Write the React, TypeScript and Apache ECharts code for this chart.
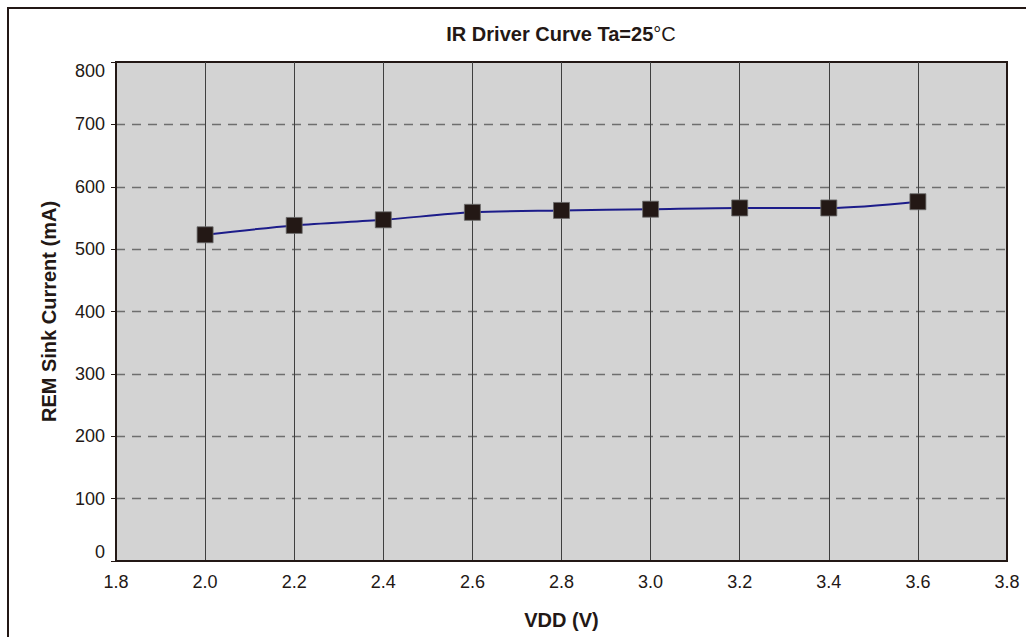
import React, { useEffect, useRef } from "react";
import * as echarts from "echarts";

const vdd = [2.0, 2.2, 2.4, 2.6, 2.8, 3.0, 3.2, 3.4, 3.6];
const sinkCurrent = [523, 538, 547, 559, 562, 564, 566, 566, 576];
const yTicks = { min: 0, max: 800, interval: 100 };
const xTicks = { min: 1.8, max: 3.8, interval: 0.2 };

const INK = "#231815";
const FONT = "'Liberation Sans', Arial, sans-serif";

export default function App() {
  const ref = useRef<HTMLDivElement>(null);
  useEffect(() => {
    if (!ref.current) return;
    const chart = echarts.init(ref.current, undefined, { renderer: "svg" });
    chart.setOption({
      animation: false,
      backgroundColor: "#ffffff",
      textStyle: { fontFamily: FONT },
      grid: {
        left: 116,
        top: 62,
        right: 19,
        bottom: 76,
        show: true,
        backgroundColor: "#d3d3d3",
        borderColor: INK,
        borderWidth: 2,
      },
      graphic: [
        {
          type: "line",
          shape: { x1: 7, y1: 8, x2: 1026, y2: 8 },
          style: { stroke: INK, lineWidth: 2 },
        },
        {
          type: "line",
          shape: { x1: 8, y1: 7, x2: 8, y2: 637 },
          style: { stroke: INK, lineWidth: 2 },
        },
        {
          type: "text",
          x: 561,
          y: 34,
          style: {
            text: "{b|IR Driver Curve Ta=25}{n|°C}",
            align: "center",
            verticalAlign: "middle",
            fill: INK,
            rich: {
              b: { fontFamily: FONT, fontWeight: "bold", fontSize: 20, fill: INK, color: INK },
              n: { fontFamily: FONT, fontWeight: "normal", fontSize: 20, fill: INK, color: INK },
            },
          },
        },
      ],
      xAxis: {
        type: "value",
        min: xTicks.min,
        max: xTicks.max,
        interval: xTicks.interval,
        name: "VDD (V)",
        nameLocation: "middle",
        nameGap: 49,
        nameTextStyle: { fontFamily: FONT, fontWeight: "bold", fontSize: 20, color: INK },
        axisLine: { show: true, lineStyle: { color: INK, width: 2 } },
        axisTick: { show: false },
        axisLabel: {
          fontFamily: FONT,
          fontSize: 18,
          color: INK,
          margin: 12,
          formatter: (v: number) => v.toFixed(1),
        },
        splitLine: {
          show: true,
          showMinLine: false,
          showMaxLine: false,
          lineStyle: { color: "#3f3f3f", width: 1, type: "solid" },
        },
      },
      yAxis: {
        type: "value",
        min: yTicks.min,
        max: yTicks.max,
        interval: yTicks.interval,
        name: "REM Sink Current (mA)",
        nameLocation: "middle",
        nameGap: 57,
        nameTextStyle: { fontFamily: FONT, fontWeight: "bold", fontSize: 20, color: INK },
        axisLine: { show: true, lineStyle: { color: INK, width: 2 } },
        axisTick: { show: true, length: 5, lineStyle: { color: INK, width: 1 } },
        axisLabel: {
          fontFamily: FONT,
          fontSize: 18,
          color: INK,
          margin: 11,
          verticalAlignMinLabel: "bottom",
          verticalAlignMaxLabel: "top",
        },
        splitLine: {
          show: true,
          showMinLine: false,
          showMaxLine: false,
          lineStyle: { color: "#6e6e6e", width: 1.3, type: [9, 7] },
        },
      },
      series: [
        {
          type: "line",
          data: vdd.map((x, i) => [x, sinkCurrent[i]]),
          smooth: 0.3,
          symbol: "rect",
          symbolSize: 16,
          itemStyle: { color: INK, borderColor: "#6b6b6b", borderWidth: 0.8 },
          lineStyle: { color: "#1c1c8a", width: 2 },
          z: 3,
        },
      ],
    });
    return () => chart.dispose();
  }, []);
  return (
    <div
      ref={ref}
      style={{ position: "absolute", left: 0, top: 0, width: 1026, height: 637 }}
    />
  );
}
